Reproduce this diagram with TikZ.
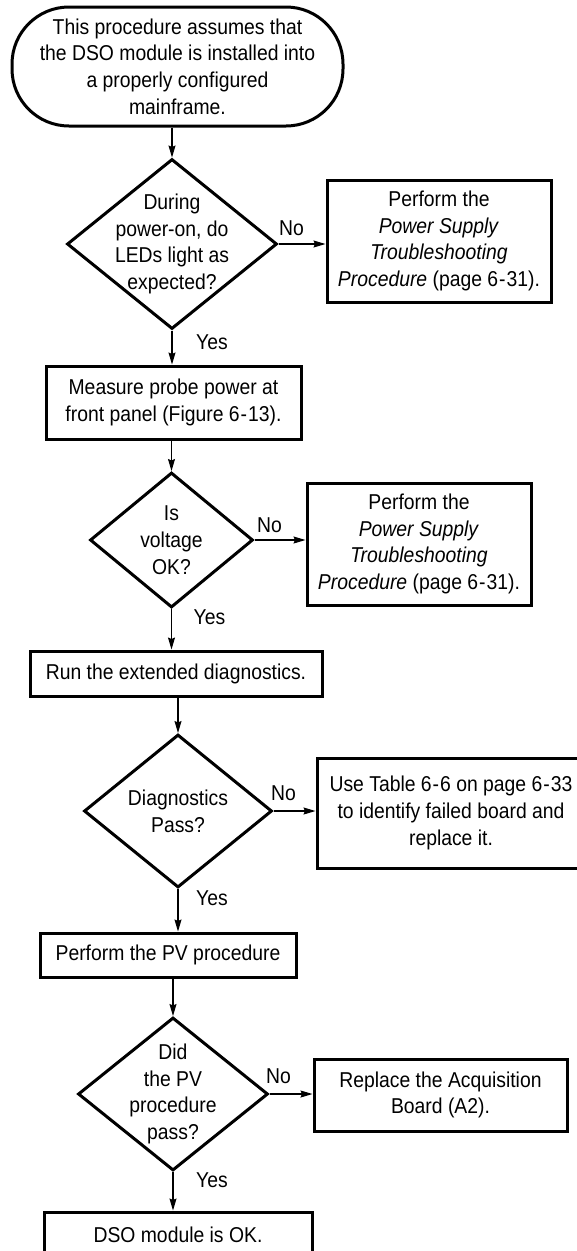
\documentclass[tikz,border=0pt]{standalone}
\usepackage{fontspec}
\setmainfont{Liberation Sans}[FakeStretch=0.9]
\usetikzlibrary{shapes.geometric,arrows.meta,calc}
\begin{document}
\begin{tikzpicture}[x=1pt,y=-1pt,
  font=\fontsize{21.5}{26.7}\selectfont,
  box/.style={draw,line width=3pt,rectangle,inner sep=0pt,align=center},
  dia/.style={draw,line width=3pt,diamond,inner sep=0pt},
  txt/.style={align=center,inner sep=0pt},
  lbl/.style={inner sep=0pt},
  arr/.style={line width=1.1pt,-{Stealth[length=12pt,width=7pt,inset=1.5pt]}}]
\useasboundingbox (0,0) rectangle (577,1251);
\clip (0,0) rectangle (577,1251);
% nodes
\node[box,rounded corners=57pt,minimum width=331pt,minimum height=119pt] (top) at (177.5,66.5)
  {This procedure assumes that\\the DSO module is installed into\\a properly configured\\mainframe.};
\node[dia,minimum width=210pt,minimum height=170pt] (d1) at (172,244) {};
\node[txt] (d1t) at (d1) {During\\power-on, do\\LEDs light as\\expected?};
\node[box,minimum width=224pt,minimum height=122pt] (ps1) at (439,241)
  {Perform the\\\textit{Power Supply}\\\textit{Troubleshooting}\\\textit{Procedure} (page 6\kern1pt-\kern1pt31).};
\node[box,minimum width=255pt,minimum height=73pt] (b2) at (173.5,402.5)
  {Measure probe power at\\front panel (Figure 6\kern1pt-\kern1pt13).};
\node[dia,minimum width=163pt,minimum height=135pt] (d2) at (171.5,540) {};
\node[txt] (d2t) at (d2) {Is\\voltage\\OK?};
\node[box,minimum width=224pt,minimum height=122pt] (ps2) at (419,544)
  {Perform the\\\textit{Power Supply}\\\textit{Troubleshooting}\\\textit{Procedure} (page 6\kern1pt-\kern1pt31).};
\node[box,minimum width=292pt,minimum height=45pt] (b3) at (176,673.5)
  {Run the extended diagnostics.};
\node[dia,minimum width=188pt,minimum height=153pt] (d3) at (178,811) {};
\node[txt] (d3t) at (d3) {Diagnostics\\Pass?};
\node[box,minimum width=268pt,minimum height=110pt] (b4) at (451,813)
  {Use Table 6\kern1pt-\kern1pt6 on page 6\kern1pt-\kern1pt33\\to identify failed board and\\replace it.};
\node[box,minimum width=256pt,minimum height=44pt] (b5) at (168,955)
  {Perform the PV procedure};
\node[dia,minimum width=190pt,minimum height=153pt] (d4) at (173,1094) {};
\node[txt] (d4t) at (d4) {Did\\the PV\\procedure\\pass?};
\node[box,minimum width=253pt,minimum height=72pt] (b6) at (440.5,1095)
  {Replace the Acquisition\\Board (A2).};
\node[box,minimum width=268pt,minimum height=46pt] (b7) at (178,1235)
  {DSO module is OK.};
% connectors
\draw[arr] (top.south -| d1.north) -- (d1.north);
\draw[arr] (d1.east) -- (d1.east -| ps1.west);
\draw[arr] (d1.south) -- (d1.south |- b2.north);
\draw[arr] (b2.south -| d2.north) -- (d2.north);
\draw[arr] (d2.east) -- (d2.east -| ps2.west);
\draw[arr] (d2.south) -- (d2.south |- b3.north);
\draw[arr] (b3.south -| d3.north) -- (d3.north);
\draw[arr] (d3.east) -- (d3.east -| b4.west);
\draw[arr] (d3.south) -- (d3.south |- b5.north);
\draw[arr] (b5.south -| d4.north) -- (d4.north);
\draw[arr] (d4.east) -- (d4.east -| b6.west);
\draw[arr] (d4.south) -- (d4.south |- b7.north);
% labels
\node[lbl] (n1) at ($(d1.east)+(13,-16)$) {No};
\node[lbl] (y1) at ($(d1.south)+(40,12)$) {Yes};
\node[lbl] (n2) at ($(d2.east)+(15,-15)$) {No};
\node[lbl] (y2) at ($(d2.south)+(38,8)$) {Yes};
\node[lbl] (n3) at ($(d3.east)+(10,-18)$) {No};
\node[lbl] (y3) at ($(d3.south)+(34,9)$) {Yes};
\node[lbl] (n4) at ($(d4.east)+(9,-18)$) {No};
\node[lbl] (y4) at ($(d4.south)+(39,8)$) {Yes};
\end{tikzpicture}
\end{document}
